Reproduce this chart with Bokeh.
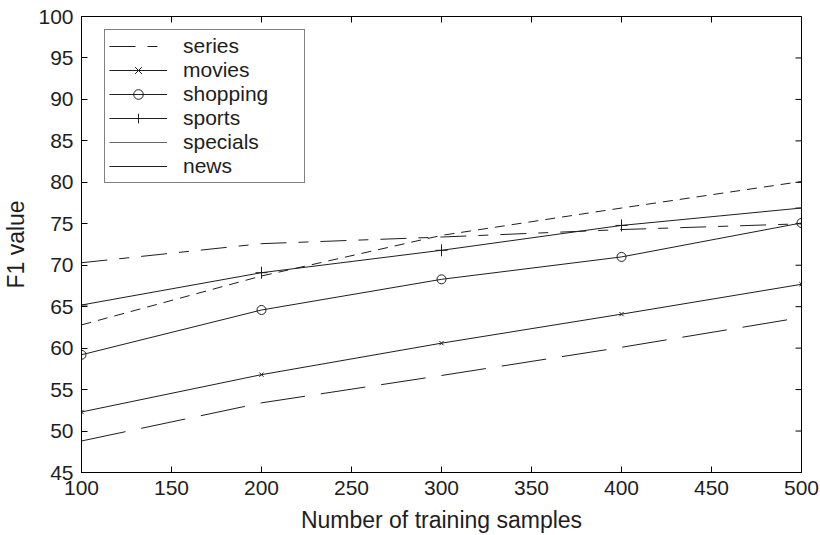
import math
from bokeh.plotting import figure
from bokeh.models import Legend, LegendItem, FixedTicker, Range1d
from bokeh.embed import file_html
from bokeh.resources import INLINE

# ---- data ----
x_samples = [100, 200, 300, 400, 500]
series_vals = [70.3, 72.6, 73.4, 74.3, 75.0]
movies_vals = [52.3, 56.8, 60.6, 64.1, 67.7]
shopping_vals = [59.2, 64.6, 68.3, 71.0, 75.1]
sports_vals = [65.2, 69.1, 71.8, 74.8, 76.9]
specials_vals = [62.8, 68.7, 73.6, 76.9, 80.1]
news_vals = [48.8, 53.4, 56.7, 60.1, 63.7]

x_ticks = [100, 150, 200, 250, 300, 350, 400, 450, 500]
y_ticks = [45, 50, 55, 60, 65, 70, 75, 80, 85, 90, 95, 100]
legend_labels = ["series", "movies", "shopping", "sports", "specials", "news"]

FONT = "Liberation Sans"
INK = "#1e1e1e"

x_min, x_max = x_ticks[0], x_ticks[-1]
y_min, y_max = y_ticks[0], y_ticks[-1]

p = figure(width=820, height=535,
           x_range=Range1d(x_min, x_max), y_range=Range1d(y_min, y_max),
           output_backend="svg", toolbar_location=None,
           min_border_left=81, min_border_right=19,
           min_border_top=16, min_border_bottom=63)
p.grid.visible = False
p.outline_line_color = "black"
p.outline_line_width = 1
p.background_fill_color = "white"
p.border_fill_color = "white"

p.xaxis.ticker = FixedTicker(ticks=x_ticks)
p.yaxis.ticker = FixedTicker(ticks=y_ticks)
p.xaxis.axis_label = "Number of training samples"
p.yaxis.axis_label = "F1 value"

for ax in (p.xaxis[0], p.yaxis[0]):
    ax.axis_line_color = "black"
    ax.major_tick_in = 6
    ax.major_tick_out = 0
    ax.major_tick_line_color = "black"
    ax.minor_tick_line_color = None
    ax.major_label_text_font = FONT
    ax.major_label_text_font_size = "21px"
    ax.major_label_text_color = INK
    ax.axis_label_text_font = FONT
    ax.axis_label_text_font_size = "23px"
    ax.axis_label_text_font_style = "normal"
    ax.axis_label_text_color = INK
p.xaxis.major_label_standoff = 8
p.yaxis.major_label_standoff = 8
p.xaxis.axis_label_standoff = 9
p.yaxis.axis_label_standoff = 6

# mirrored inward ticks on the top and right edges of the box
# (dash markers centred on the edge; the outer half is clipped by the frame)
p.scatter(x_ticks, [y_max] * len(x_ticks), marker="dash", angle=math.pi / 2,
          size=12, line_color="black", line_width=1)
p.scatter([x_max] * len(y_ticks), y_ticks, marker="dash",
          size=12, line_color="black", line_width=1)

# ---- lines ----
r_series = p.line(x_samples, series_vals, line_color=INK, line_width=1, line_dash="26 12 10 12")
r_movies = p.line(x_samples, movies_vals, line_color=INK, line_width=1)
m_movies = p.scatter(x_samples, movies_vals, marker="x", size=6, line_color=INK, line_width=1)
r_shop = p.line(x_samples, shopping_vals, line_color=INK, line_width=1)
m_shop = p.scatter(x_samples, shopping_vals, marker="circle", size=9, line_color=INK,
                   fill_color=None, line_width=1)
r_sports = p.line(x_samples, sports_vals, line_color=INK, line_width=1)
m_sports = p.scatter(x_samples, sports_vals, marker="cross", size=12, line_color=INK, line_width=1)
r_specials = p.line(x_samples, specials_vals, line_color=INK, line_width=1, line_dash="10 7")
r_news = p.line(x_samples, news_vals, line_color=INK, line_width=1, line_dash="45 16")

# legend-only swatches (the reference legend shows these two as solid lines);
# a single-point line draws nothing in the plot area
lg_specials = p.line(x_samples[:1], specials_vals[:1], line_color="#666666", line_width=1)
lg_news = p.line(x_samples[:1], news_vals[:1], line_color=INK, line_width=1)

items = [
    LegendItem(label=legend_labels[0], renderers=[r_series]),
    LegendItem(label=legend_labels[1], renderers=[r_movies, m_movies]),
    LegendItem(label=legend_labels[2], renderers=[r_shop, m_shop]),
    LegendItem(label=legend_labels[3], renderers=[r_sports, m_sports]),
    LegendItem(label=legend_labels[4], renderers=[lg_specials]),
    LegendItem(label=legend_labels[5], renderers=[lg_news]),
]
legend = Legend(items=items, location=(23, 289), margin=0, padding=4, spacing=0,
                glyph_width=58, glyph_height=24, label_height=24, label_width=117,
                label_standoff=16, label_text_font=FONT, label_text_font_size="21px",
                label_text_color=INK, border_line_color="black", border_line_width=1,
                background_fill_color="white", background_fill_alpha=1)
p.add_layout(legend, "center")

open("out.html", "w").write(file_html(p, INLINE))
